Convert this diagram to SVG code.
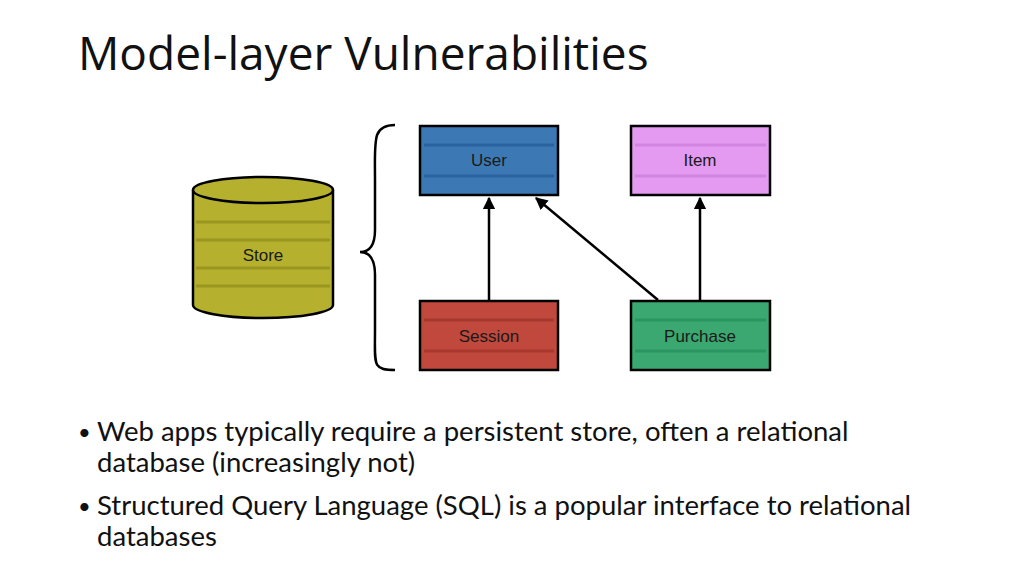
<svg xmlns="http://www.w3.org/2000/svg" width="1024" height="575" viewBox="0 0 1024 575">
<style>
.t{font-family:"Open Sans","Noto Sans",sans-serif;fill:#111}
.b{font-family:"Liberation Sans",Arial,sans-serif;font-size:17px;text-anchor:middle;fill:#1a1a1a}
.box{stroke:#000;stroke-width:2.5}
.e{stroke:#000;stroke-width:2.5;fill:none;marker-end:url(#a)}
.body{font-family:"Lato","Open Sans",sans-serif;font-size:27.5px;fill:#111}
</style>
<defs><marker id="a" viewBox="0 0 10 10" refX="9" refY="5" markerWidth="5" markerHeight="5" orient="auto"><path d="M0,0L10,5L0,10z" fill="#000"/></marker></defs>
<rect width="1024" height="575" fill="#fff"/>
<text class="t" x="78" y="70" font-size="46">Model-layer Vulnerabilities</text>
<g id="store">
<path d="M193,190 V305 A70,13 0 0 0 333,305 V190" fill="#b5b02e" stroke="#000" stroke-width="2.5"/>
<g stroke="#9a961f" stroke-width="3"><line x1="196" y1="222" x2="330" y2="222"/><line x1="196" y1="240" x2="330" y2="240"/><line x1="196" y1="268" x2="330" y2="268"/><line x1="196" y1="286" x2="330" y2="286"/></g>
<ellipse cx="263" cy="190" rx="70" ry="13" fill="#b5b02e" stroke="#000" stroke-width="2.5"/>
<text class="b" x="263" y="261" font-size="24">Store</text>
</g>
<g id="brace"><path d="M395,125 C372,125 375,140 375,180 L375,230 C375,245 370,252 360,252 C370,252 375,260 375,275 L375,330 C375,365 372,370 395,370" fill="none" stroke="#000" stroke-width="2.5"/></g>
<g id="user"><rect class="box" x="420" y="126" width="138" height="69" fill="#3c78b4"/><g stroke="#2a62a0" stroke-width="3"><line x1="424" y1="145" x2="554" y2="145"/><line x1="424" y1="176" x2="554" y2="176"/></g><text class="b" x="489" y="166">User</text></g>
<g id="item"><rect class="box" x="631" y="126" width="139" height="69" fill="#e39af0"/><g stroke="#d184e0" stroke-width="3"><line x1="635" y1="145" x2="766" y2="145"/><line x1="635" y1="176" x2="766" y2="176"/></g><text class="b" x="700" y="166">Item</text></g>
<g id="session"><rect class="box" x="420" y="301" width="138" height="69" fill="#c0483c"/><g stroke="#a8372d" stroke-width="3"><line x1="424" y1="320" x2="554" y2="320"/><line x1="424" y1="351" x2="554" y2="351"/></g><text class="b" x="489" y="342">Session</text></g>
<g id="purchase"><rect class="box" x="631" y="301" width="139" height="69" fill="#3aa870"/><g stroke="#2a9560" stroke-width="3"><line x1="635" y1="320" x2="766" y2="320"/><line x1="635" y1="351" x2="766" y2="351"/></g><text class="b" x="700" y="342">Purchase</text></g>
<g id="edges">
<line class="e" x1="489" y1="300" x2="489" y2="198"/>
<line class="e" x1="658" y1="300" x2="536" y2="198"/>
<line class="e" x1="700" y1="300" x2="700" y2="198"/>
</g>
<g class="body">
<text x="78" y="440" font-size="22">•</text>
<text x="97" y="441">Web apps typically require a persistent store, often a relational</text>
<text x="97" y="472">database (increasingly not)</text>
<text x="78" y="514" font-size="22">•</text>
<text x="97" y="515">Structured Query Language (SQL) is a popular interface to relational</text>
<text x="97" y="546">databases</text>
</g>
</svg>
